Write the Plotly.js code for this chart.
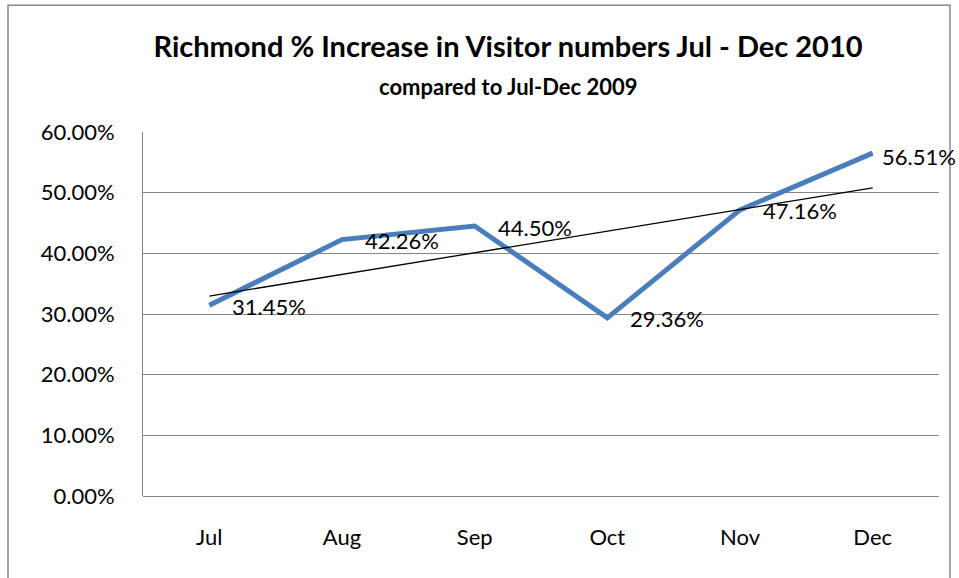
<!DOCTYPE html>
<html>
<head>
<meta charset="utf-8">
<script src="https://cdn.plot.ly/plotly-3.0.1.min.js"></script>
<style>
html,body{margin:0;padding:0;background:#fff;}
#chart{width:959px;height:578px;}
</style>
</head>
<body>
<div id="chart"></div>
<script>
const months = ["Jul", "Aug", "Sep", "Oct", "Nov", "Dec"];
const increasePct = [31.45, 42.26, 44.50, 29.36, 47.16, 56.51];
const yTickVals = [0, 10, 20, 30, 40, 50, 60];
const titleText = "Richmond % Increase in Visitor numbers Jul - Dec 2010";
const subtitleText = "compared to Jul-Dec 2009";

// linear trendline (least squares) computed from the series
const n = increasePct.length;
const xs = increasePct.map((_, i) => i);
const mx = xs.reduce((a, b) => a + b, 0) / n;
const my = increasePct.reduce((a, b) => a + b, 0) / n;
let sxy = 0, sxx = 0;
for (let i = 0; i < n; i++) { sxy += (xs[i] - mx) * (increasePct[i] - my); sxx += (xs[i] - mx) ** 2; }
const slope = sxy / sxx, icpt = my - slope * mx;
const trend = xs.map(x => icpt + slope * x);

const FONT = "Lato, 'Open Sans', sans-serif";

const L = 143, R = 939, T = 131.7, B = 495.7, W = 959, H = 578;
const pw = R - L, ph = B - T;
const px2x = p => (p - L) / pw;
const py2y = p => (B - p) / ph;

const traces = [
  {
    x: months, y: increasePct, type: "scatter", mode: "lines",
    line: {color: "#4A7EBB", width: 5}, hoverinfo: "x+y"
  },
  {
    x: months, y: trend, type: "scatter", mode: "lines",
    line: {color: "#000000", width: 1.3}, hoverinfo: "skip"
  }
];

const annotations = months.map((m, i) => ({
  x: m, y: increasePct[i], xref: "x", yref: "y",
  text: increasePct[i].toFixed(2) + "%",
  showarrow: false, xanchor: "left", yanchor: "middle",
  // last label is pulled in so it stays inside the chart area
  xshift: i === n - 1 ? 7 : 21, yshift: i === n - 1 ? -3 : -1,
  font: {family: FONT, size: 22, color: "#000"}
}));
annotations.push({
  text: "<b>" + subtitleText + "</b>",
  xref: "paper", yref: "paper", x: px2x(508), y: py2y(86),
  xanchor: "center", yanchor: "middle", showarrow: false,
  font: {family: FONT, size: 22, color: "#000"}
});

const layout = {
  width: W, height: H,
  paper_bgcolor: "#fff", plot_bgcolor: "#fff",
  margin: {l: L, r: W - R, t: T, b: H - B, pad: 0},
  showlegend: false,
  title: {
    text: "<b>" + titleText + "</b>",
    x: 508 / W, xanchor: "center", xref: "container",
    y: 1 - 47 / H, yanchor: "middle", yref: "container",
    font: {family: FONT, size: 29, color: "#000"}
  },
  xaxis: {
    type: "category", range: [-0.5, 5.5], showgrid: false, zeroline: false,
    showline: false,
    ticks: "outside", ticklen: 22, tickcolor: "rgba(0,0,0,0)",
    tickfont: {family: FONT, size: 22, color: "#000"},
    fixedrange: true
  },
  yaxis: {
    range: [0, 60], tickvals: yTickVals,
    ticktext: yTickVals.map(v => v.toFixed(2) + "%"),
    showgrid: true, gridcolor: "#868686", gridwidth: 1,
    zeroline: true, zerolinecolor: "#868686", zerolinewidth: 1,
    showline: true, linecolor: "#868686", linewidth: 1,
    ticks: "outside", ticklen: 23, tickcolor: "rgba(0,0,0,0)",
    tickfont: {family: FONT, size: 22, color: "#000"},
    fixedrange: true
  },
  annotations: annotations,
  shapes: [
    {type: "rect", xref: "paper", yref: "paper",
     x0: px2x(8), x1: px2x(950), y0: py2y(600), y1: py2y(5),
     line: {color: "#888888", width: 1.5}, fillcolor: "rgba(0,0,0,0)", layer: "below"}
  ]
};

Plotly.newPlot("chart", traces, layout, {displayModeBar: false, staticPlot: true});
</script>
</body>
</html>
